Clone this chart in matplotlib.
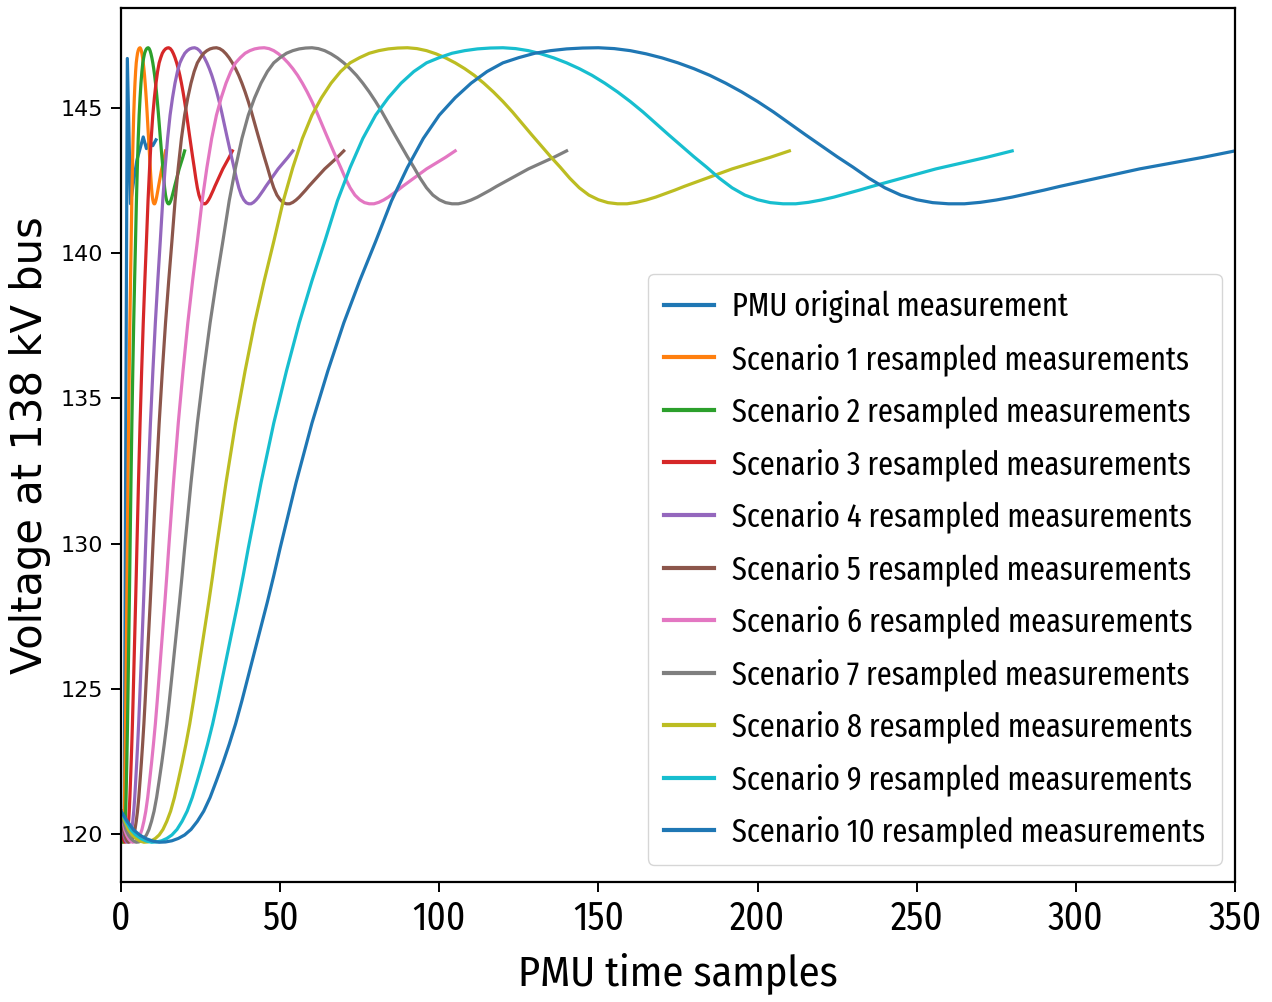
import matplotlib
matplotlib.use("Agg")
import matplotlib.pyplot as plt
import numpy as np

# ---- data ----
# Shared waveform of the resampled scenarios, read off Scenario 10 (350 samples long)
base_x = [0, 2, 4, 6, 8, 10, 12, 14, 16, 18, 20, 22, 24, 26, 28, 30, 32, 34, 36, 38,
          40, 42, 44, 46, 48, 50, 55, 60, 65, 70, 75, 80, 85, 90,
          95, 100, 105, 110, 115, 120, 125, 130, 135, 140, 145, 150, 155, 160, 165, 170,
          175, 180, 185, 190, 195, 200, 205, 210, 215, 220, 225, 230, 235, 240, 245, 250,
          255, 260, 265, 270, 275, 280, 285, 290, 295, 300, 305, 310, 315, 320, 325, 330,
          335, 340, 345, 350]
base_v = [120.80, 120.45, 120.15, 119.97, 119.85, 119.77, 119.73, 119.74, 119.78, 119.86,
          119.98, 120.17, 120.45, 120.80, 121.27, 121.85, 122.45, 123.10, 123.80, 124.60,
          125.45, 126.30, 127.15, 128.00, 128.90, 129.85, 132.10, 134.15, 135.95, 137.60,
          139.05, 140.40, 141.80, 142.95,
          143.95, 144.75, 145.35, 145.85, 146.25, 146.55, 146.73, 146.88, 146.97, 147.03,
          147.06, 147.07, 147.04, 146.97, 146.86, 146.72, 146.55, 146.35, 146.12, 145.85,
          145.55, 145.22, 144.86, 144.47, 144.08, 143.70, 143.32, 142.96, 142.58, 142.25,
          142.00, 141.84, 141.74, 141.70, 141.70, 141.75, 141.83, 141.93, 142.05, 142.17,
          142.30, 142.42, 142.54, 142.66, 142.78, 142.90, 143.00, 143.10, 143.20, 143.30,
          143.41, 143.52]

# Original PMU measurement (few raw samples)
orig_x = [0, 1, 2, 3, 4, 5, 6, 7, 8, 9, 10, 11]
orig_v = [120.8, 120.0, 146.7, 141.7, 142.5, 143.2, 143.6, 144.0, 143.6, 143.85, 143.7, 143.9]

# Length (in PMU time samples) of each resampled scenario
scenario_names = [f"Scenario {i} resampled measurements" for i in range(1, 11)]
scenario_lengths = [14, 20, 35, 54, 70, 105, 140, 210, 280, 350]

x_label = "PMU time samples"
y_label = "Voltage at 138 kV bus"

# ---- figure ----
fig = plt.figure(figsize=(12.72, 10.02), dpi=100)
ax = fig.add_axes([0.0951, 0.1198, 0.8758, 0.8722])

colors = plt.rcParams['axes.prop_cycle'].by_key()['color']
lw = 2.3
ax.plot(orig_x, orig_v, color=colors[0], lw=lw, label="PMU original measurement")
bx = np.asarray(base_x, dtype=float)
for i, (name, L) in enumerate(zip(scenario_names, scenario_lengths)):
    ax.plot(bx * L / bx[-1], base_v, color=colors[(i + 1) % 10], lw=lw, label=name)

ax.set_xlim(0, 350)

cond = "Fira Sans Extra Condensed"
for s in ax.spines.values():
    s.set_linewidth(1.6)
ax.tick_params(axis='y', labelsize=16, length=7, width=1.4, pad=6)
ax.tick_params(axis='x', labelsize=29, length=7, width=1.4, pad=5)
for t in ax.get_xticklabels():
    t.set_fontfamily(cond)

ax.set_ylabel(y_label, fontsize=30, labelpad=7)
ax.set_xlabel(x_label, fontsize=30.5, family="Fira Sans Condensed", labelpad=10)

leg = ax.legend(loc='lower right', bbox_to_anchor=(0.988, 0.0195), borderaxespad=0,
                prop={'family': cond, 'size': 23.8}, handlelength=1.5, handletextpad=0.55,
                labelspacing=0.6, borderpad=0.5, fancybox=True)
for h in leg.get_lines():
    h.set_linewidth(3)

fig.savefig("out.png", dpi=100)
